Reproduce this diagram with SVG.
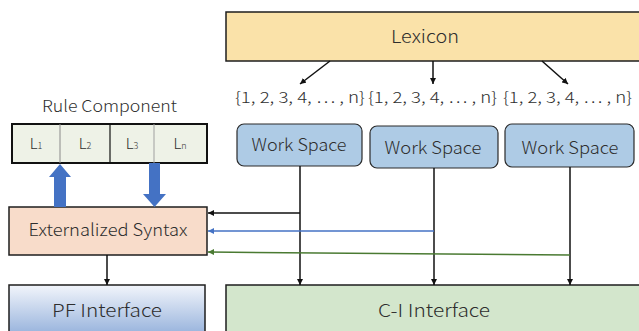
<svg xmlns="http://www.w3.org/2000/svg" width="639" height="331" viewBox="0 0 639 331">
  <defs>
    <style>
      text { font-family: "Noto Sans CJK JP", "Noto Sans", sans-serif; font-weight: 300; fill: #2e2e2e; text-anchor: middle; }
      .box { stroke: #1e1e1e; stroke-width: 1.5; }
      .ws { fill: #aecbe5; stroke: #2a2a2a; stroke-width: 1.2; }
      .wire { fill: none; stroke: #111; stroke-width: 1.5; }
      .big { fill: #4472c4; }
    </style>
    <linearGradient id="pfGrad" x1="0" y1="0" x2="0" y2="1">
      <stop offset="0" stop-color="#f2f5fb"/>
      <stop offset="1" stop-color="#96b2dc"/>
    </linearGradient>
    <marker id="ahBlack" viewBox="0 0 10 10" refX="10" refY="5" markerWidth="4" markerHeight="4" orient="auto" markerUnits="strokeWidth">
      <path d="M0,0 L10,5 L0,10 z" fill="#111"/>
    </marker>
    <marker id="ahBlue" viewBox="0 0 10 10" refX="10" refY="5" markerWidth="4" markerHeight="4" orient="auto" markerUnits="strokeWidth">
      <path d="M0,0 L10,5 L0,10 z" fill="#4472c4"/>
    </marker>
    <marker id="ahGreen" viewBox="0 0 10 10" refX="10" refY="5" markerWidth="4" markerHeight="4" orient="auto" markerUnits="strokeWidth">
      <path d="M0,0 L10,5 L0,10 z" fill="#4a7a32"/>
    </marker>
  </defs>

  <!-- Lexicon -->
  <g id="lexicon">
    <rect class="box" x="226" y="12" width="416" height="49" fill="#fae2a9"/>
    <text x="425" y="43" font-size="18" textLength="68" lengthAdjust="spacingAndGlyphs">Lexicon</text>
  </g>

  <!-- number sets -->
  <g id="sets" font-size="15.5">
    <text x="300" y="103" textLength="130" lengthAdjust="spacingAndGlyphs">{1, 2, 3, 4, … , n}</text>
    <text x="432.5" y="103" textLength="129" lengthAdjust="spacingAndGlyphs">{1, 2, 3, 4, … , n}</text>
    <text x="567.5" y="103" textLength="129" lengthAdjust="spacingAndGlyphs">{1, 2, 3, 4, … , n}</text>
  </g>

  <!-- Work spaces -->
  <g id="ws1">
    <rect class="ws" x="237" y="124" width="125" height="42" rx="7"/>
    <text x="299" y="151" font-size="17" textLength="95" lengthAdjust="spacingAndGlyphs">Work Space</text>
  </g>
  <g id="ws2">
    <rect class="ws" x="370" y="126" width="128" height="42" rx="7"/>
    <text x="433" y="154" font-size="17" textLength="97" lengthAdjust="spacingAndGlyphs">Work Space</text>
  </g>
  <g id="ws3">
    <rect class="ws" x="505" y="124" width="129" height="43" rx="7"/>
    <text x="570" y="154" font-size="17" textLength="97" lengthAdjust="spacingAndGlyphs">Work Space</text>
  </g>

  <!-- Rule component -->
  <g id="rule-component">
    <text x="109.5" y="112" font-size="16" textLength="135" lengthAdjust="spacingAndGlyphs">Rule Component</text>
    <rect x="12" y="124" width="195" height="39" fill="#eef2e7" stroke="#111" stroke-width="2"/>
    <line x1="60" y1="124" x2="60" y2="163" stroke="#8a8a8a" stroke-width="1"/>
    <line x1="110" y1="124" x2="110" y2="163" stroke="#111" stroke-width="1.2"/>
    <line x1="154" y1="124" x2="154" y2="163" stroke="#a0a0a0" stroke-width="1"/>
    <g font-size="15" fill="#444">
      <text x="36" y="149">L<tspan font-size="9">1</tspan></text>
      <text x="85" y="149">L<tspan font-size="9">2</tspan></text>
      <text x="132" y="149">L<tspan font-size="9">3</tspan></text>
      <text x="180" y="149">L<tspan font-size="9">n</tspan></text>
    </g>
  </g>

  <!-- Externalized syntax -->
  <g id="externalized-syntax">
    <rect class="box" x="9" y="207" width="198" height="48" fill="#f8dcca"/>
    <text x="108" y="236" font-size="17" textLength="159" lengthAdjust="spacingAndGlyphs">Externalized Syntax</text>
  </g>

  <!-- PF interface -->
  <g id="pf-interface">
    <rect class="box" x="9" y="285" width="196" height="50" fill="url(#pfGrad)"/>
    <text x="107" y="317" font-size="18" textLength="110" lengthAdjust="spacingAndGlyphs">PF Interface</text>
  </g>

  <!-- C-I interface -->
  <g id="ci-interface">
    <rect class="box" x="226" y="285" width="416" height="50" fill="#d3e6cc"/>
    <text x="434" y="317" font-size="18" textLength="112" lengthAdjust="spacingAndGlyphs">C-I Interface</text>
  </g>

  <!-- connectors -->
  <g id="connectors">
    <line class="wire" x1="330" y1="61" x2="300" y2="84" marker-end="url(#ahBlack)"/>
    <line class="wire" x1="433" y1="61" x2="433" y2="84" marker-end="url(#ahBlack)"/>
    <line class="wire" x1="542" y1="61" x2="568" y2="84" marker-end="url(#ahBlack)"/>

    <line class="wire" x1="300" y1="166" x2="300" y2="285" marker-end="url(#ahBlack)"/>
    <line class="wire" x1="434" y1="168" x2="434" y2="285" marker-end="url(#ahBlack)"/>
    <line class="wire" x1="570" y1="167" x2="570" y2="285" marker-end="url(#ahBlack)"/>

    <line class="wire" x1="300" y1="213" x2="208" y2="213" marker-end="url(#ahBlack)"/>
    <line x1="434" y1="231" x2="208" y2="231" stroke="#4472c4" stroke-width="1.5" marker-end="url(#ahBlue)"/>
    <line x1="570" y1="255" x2="208" y2="252" stroke="#4a7a32" stroke-width="1.5" marker-end="url(#ahGreen)"/>

    <line class="wire" x1="107" y1="255" x2="107" y2="285" marker-end="url(#ahBlack)"/>

    <!-- thick block arrows between syntax and rule component -->
    <path class="big" d="M54,207 L54,177 L49,177 L60,164 L71,177 L66,177 L66,207 z"/>
    <path class="big" d="M149,163 L149,194 L143,194 L154.5,207 L166,194 L160,194 L160,163 z"/>
  </g>
</svg>
